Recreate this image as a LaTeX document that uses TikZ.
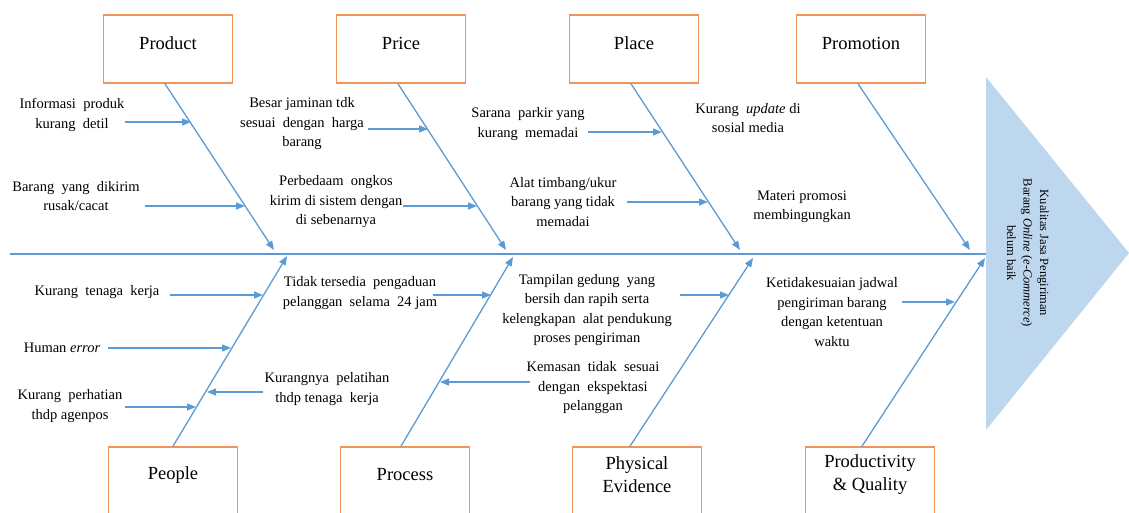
\documentclass[tikz,border=0pt]{standalone}
\usepackage{fontspec}
\setmainfont{Liberation Serif}
\usetikzlibrary{arrows.meta,calc}
\definecolor{boxorange}{HTML}{F0955A}
\definecolor{boneblue}{HTML}{5B9BD5}
\definecolor{headfill}{HTML}{BDD7EE}
\tikzset{
  catbox/.style={draw=boxorange, line width=1.6pt, minimum width=129pt, minimum height=68pt, inner sep=0pt},
  catlabel/.style={font=\fontsize{18.5}{23}\selectfont, align=center, yshift=6pt},
  bone/.style={draw=boneblue, line width=1.3pt, -{Triangle[length=9pt,width=7pt]}},
  spineline/.style={draw=boneblue, line width=1.3pt},
  sub/.style={draw=boneblue, line width=1.3pt, -{Triangle[length=9pt,width=7pt]}},
  cause/.style={font=\fontsize{14.5}{19.5}\selectfont, align=center, inner sep=0pt},
  effect/.style={font=\fontsize{12.5}{16.5}\selectfont, align=center, inner sep=0pt, rotate=-90}
}
\begin{document}
\begin{tikzpicture}[x=1pt,y=-1pt]
\useasboundingbox (0,0) rectangle (1129,512);
% head
\fill[headfill] (986,77) -- (1129,253) -- (986,430) -- cycle;
\node[effect] (eff) at (1028,253) {Kualitas Jasa Pengiriman\\Barang \textit{Online} (\textit{e-Commerce})\\belum baik};
% spine
\coordinate (spineL) at (10,254);
\coordinate (headW) at (986,254);
\draw[spineline] (spineL) -- (headW);
% top boxes
\node[catbox, label={[catlabel]center:Product}] (product) at (168,49) {};
\node[catbox, label={[catlabel]center:Price}] (price) at (401,49) {};
\node[catbox, label={[catlabel]center:Place}] (place) at (634,49) {};
\node[catbox, label={[catlabel]center:Promotion}] (promotion) at (861,49) {};
% bottom boxes
\node[catbox, label={[catlabel]center:People}] (people) at (173,481) {};
\node[catbox, label={[catlabel]center:Process}] (process) at (405,481) {};
\node[catbox, label={[catlabel]center:Physical\\Evidence}] (physical) at (637,481) {};
\node[catbox, label={[catlabel]center:Productivity\\\& Quality}] (productivity) at (870,481) {};
% bone ends
\coordinate (prodE) at (274,250);
\coordinate (pricE) at (506,250);
\coordinate (placE) at (740,250);
\coordinate (promE) at (970,250);
\coordinate (peopE) at (287,256);
\coordinate (procE) at (513,257);
\coordinate (physE) at (753,258);
\coordinate (qualE) at (985,258);
\draw[bone] ([xshift=-3pt]product.south) -- (prodE);
\draw[bone] ([xshift=-3pt]price.south) -- (pricE);
\draw[bone] ([xshift=-3pt]place.south) -- (placE);
\draw[bone] ([xshift=-3pt]promotion.south) -- (promE);
\draw[bone] (people.north) -- (peopE);
\draw[bone] ([xshift=-4pt]process.north) -- (procE);
\draw[bone] ([xshift=-7pt]physical.north) -- (physE);
\draw[bone] ([xshift=-8pt]productivity.north) -- (qualE);
% causes top
\node[cause] (c1) at (72,115) {Informasi\ \ produk\\kurang\ \ detil};
\node[cause] (c2) at (76,196) {Barang\ \ yang\ \ dikirim\\rusak/cacat};
\node[cause] (c3) at (302,124) {Besar jaminan tdk\\sesuai\ \ dengan\ \ harga\\barang};
\node[cause] (c4) at (336,202) {Perbedaam\ \ ongkos\\kirim di sistem dengan\\di sebenarnya};
\node[cause] (c5) at (528,124) {Sarana\ \ parkir yang\\kurang\ \ memadai};
\node[cause] (c6) at (563,202) {Alat timbang/ukur\\barang yang tidak\\memadai};
\node[cause] (c7) at (748,118) {Kurang\ \ \textit{update} di\\sosial media};
\node[cause] (c8) at (802,207) {Materi promosi\\membingungkan};
% causes bottom
\node[cause] (c9) at (97,292) {Kurang\ \ tenaga\ \ kerja};
\node[cause] (c10) at (62,348) {Human \textit{error}};
\node[cause] (c11) at (70,406) {Kurang\ \ perhatian\\thdp agenpos};
\node[cause] (c12) at (327,389) {Kurangnya\ \ pelatihan\\thdp tenaga\ \ kerja};
\node[cause] (c13) at (360,293) {Tidak tersedia\ \ pengaduan\\pelanggan\ \ selama\ \ 24 jam};
\node[cause] (c14) at (593,388) {Kemasan\ \ tidak\ \ sesuai\\dengan\ \ ekspektasi\\pelanggan};
\node[cause] (c15) at (587,310) {Tampilan gedung\ \ yang\\bersih dan rapih serta\\kelengkapan\ \ alat pendukung\\proses pengiriman};
\node[cause] (c16) at (832,312) {Ketidakesuaian jadwal\\pengiriman barang\\dengan ketentuan\\waktu};
% small arrows
\coordinate (a1s) at (125,122);  \coordinate (a1e) at (191,122);
\coordinate (a2s) at (145,206);  \coordinate (a2e) at (245,206);
\coordinate (a3s) at (368,129);  \coordinate (a3e) at (428,129);
\coordinate (a4s) at (403,206);  \coordinate (a4e) at (477,206);
\coordinate (a5s) at (588,132);  \coordinate (a5e) at (662,132);
\coordinate (a6s) at (627,202);  \coordinate (a6e) at (708,202);
\coordinate (a9s) at (170,295);  \coordinate (a9e) at (263,295);
\coordinate (a10s) at (108,348); \coordinate (a10e) at (231,348);
\coordinate (a11s) at (125,407); \coordinate (a11e) at (196,407);
\coordinate (a12s) at (263,392); \coordinate (a12e) at (207,392);
\coordinate (a13s) at (433,295); \coordinate (a13e) at (491,295);
\coordinate (a14s) at (530,382); \coordinate (a14e) at (440,382);
\coordinate (a15s) at (680,295); \coordinate (a15e) at (729,295);
\coordinate (a16s) at (902,302); \coordinate (a16e) at (955,302);
\foreach \i in {1,2,3,4,5,6,9,10,11,12,13,14,15,16}{
  \draw[sub] (a\i s) -- (a\i e);
}
\end{tikzpicture}
\end{document}
